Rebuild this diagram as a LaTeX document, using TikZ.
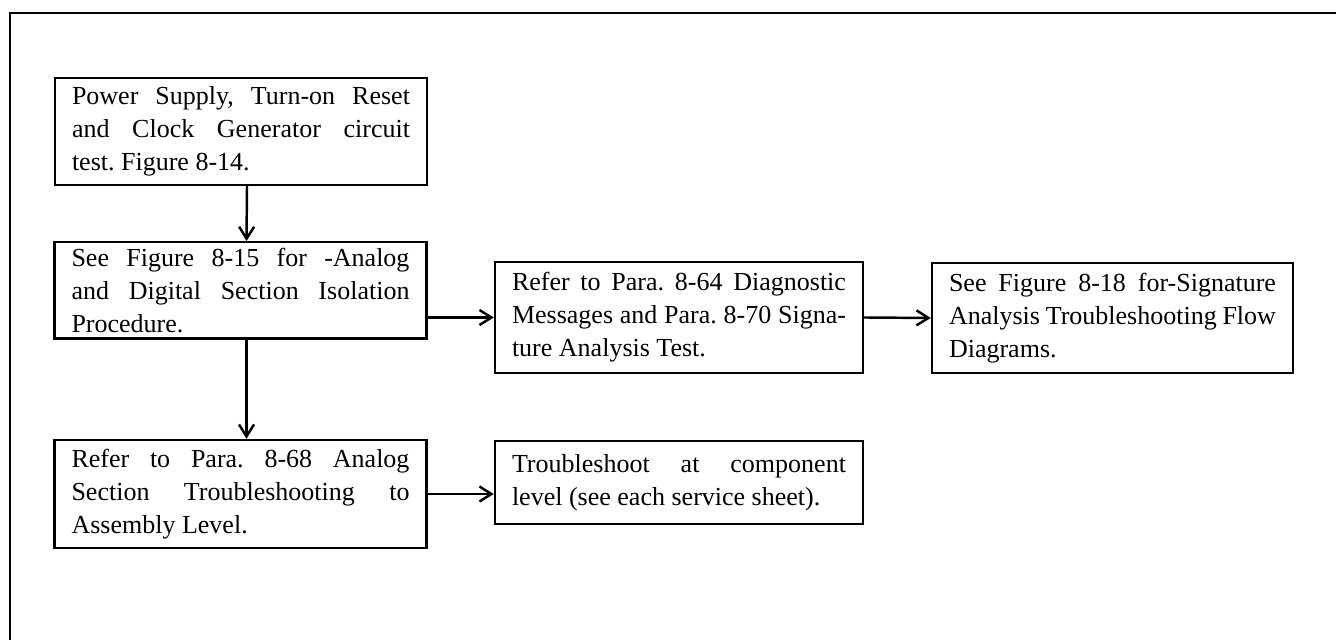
\documentclass[tikz,border=0pt]{standalone}
\usepackage{fontspec}
\setmainfont{Liberation Serif}
\usetikzlibrary{positioning,arrows.meta,calc}
\frenchspacing

\begin{document}
\begin{tikzpicture}[
    testbox/.style={
        draw, line width=1.4pt, align=justify, inner xsep=0.34cm,
        font=\fontsize{14.8}{18.8}\selectfont
    },
    arr/.style={-{Straight Barb[length=2.4mm,width=3mm]}, line width=1.4pt}
]
    \useasboundingbox (0,0) rectangle (26.72,12.8);

    % frame
    \draw[line width=1.4pt] (26.72,12.54) -- (0.2,12.54) -- (0.2,0);

    \node[testbox, text width=6.76cm, minimum height=2.14cm] (power) at (4.82, 10.17)
        {Power Supply, Turn-on Reset\linebreak and Clock Generator circuit\linebreak test. Figure 8-14.};

    \node[testbox, text width=6.76cm, minimum height=1.9cm] (isolate) at (4.81, 6.99)
        {See Figure 8-15 for -Analog\linebreak and Digital Section Isolation\linebreak Procedure.};

    \node[testbox, text width=6.76cm, minimum height=2.16cm] (analog) at (4.81, 2.92)
        {Refer to Para. 8-68 Analog\linebreak Section Troubleshooting to\linebreak Assembly Level.};

    \node[testbox, text width=6.68cm, minimum height=2.22cm] (diag) at (13.58, 6.45)
        {Refer to Para. 8-64 Diagnostic\linebreak Messages and Para. 8-70 Signa-\linebreak ture Analysis Test.};

    \node[testbox, text width=6.54cm, minimum height=2.2cm] (sigflow) at (22.25, 6.44)
        {See Figure 8-18 for-Signature\linebreak Analysis Troubleshooting Flow\linebreak Diagrams.};

    \node[testbox, text width=6.68cm, minimum height=1.66cm] (component) at (13.58, 3.15)
        {Troubleshoot at component\linebreak level (see each service sheet).};

    \draw[arr] ([xshift=0.12cm]power.south) -- ([xshift=0.12cm]isolate.north);
    \draw[arr] ([xshift=0.12cm]isolate.south) -- ([xshift=0.12cm]analog.north);
    \draw[arr] (isolate.east |- diag.west) -- (diag.west);
    \draw[arr] (diag.east) -- (sigflow.west);
    \draw[arr] (analog.east) -- (analog.east -| component.west);
\end{tikzpicture}
\end{document}
